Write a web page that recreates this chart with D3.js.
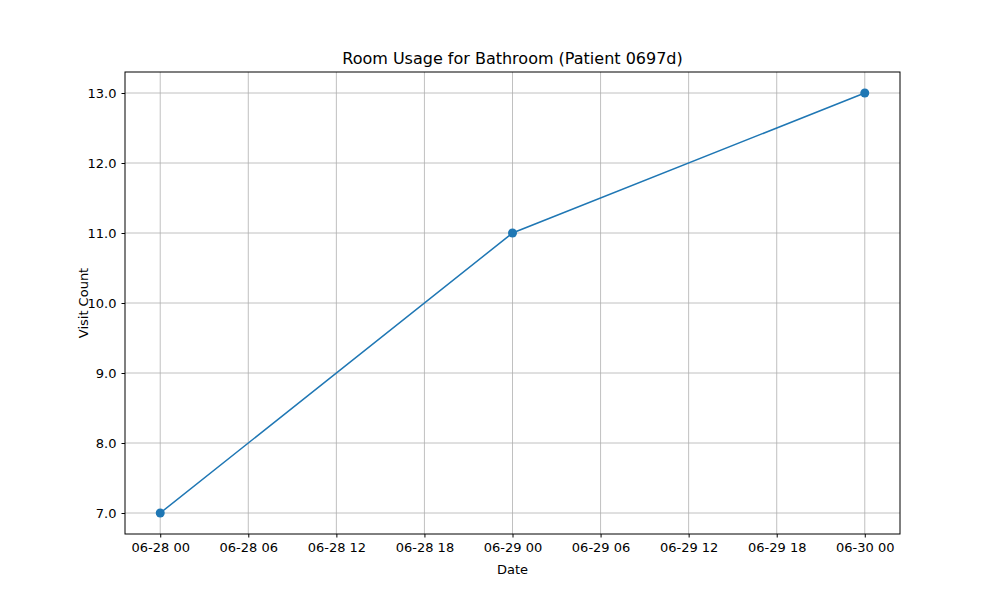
<!DOCTYPE html>
<html><head><meta charset="utf-8">
<script src="https://cdn.jsdelivr.net/npm/d3@7"></script>
<style>body{margin:0;background:#fff}text{font-family:"DejaVu Sans",sans-serif}</style>
</head><body>
<svg id="chart" width="1000" height="600"></svg>
<script>
// data
const dates = ["2023-06-28T00:00", "2023-06-29T00:00", "2023-06-30T00:00"];
const visits = [7, 11, 13];
const yTicks = [7, 8, 9, 10, 11, 12, 13];

const svg = d3.select("#chart");
const mLeft = 125, mRight = 900, mTop = 72, mBottom = 534;

const parse = d3.timeParse("%Y-%m-%dT%H:%M");
const pts = dates.map((d, i) => ({ t: parse(d), v: visits[i] }));

// matplotlib style 5% margins
const t0 = pts[0].t, t1 = pts[pts.length - 1].t;
const pad = (t1 - t0) * 0.05;
const x = d3.scaleTime().domain([new Date(+t0 - pad), new Date(+t1 + pad)]).range([mLeft, mRight]);
const yPad = (13 - 7) * 0.05;
const y = d3.scaleLinear().domain([7 - yPad, 13 + yPad]).range([mBottom, mTop]);

const xTicks = d3.timeHour.every(6).range(t0, new Date(+t1 + 1));
const fmt = d3.timeFormat("%m-%d %H");

// grid
svg.append("g").selectAll("line").data(xTicks).join("line")
  .attr("x1", d => x(d)).attr("x2", d => x(d)).attr("y1", mTop).attr("y2", mBottom)
  .attr("stroke", "#b0b0b0").attr("stroke-width", 0.8);
svg.append("g").selectAll("line").data(yTicks).join("line")
  .attr("y1", d => y(d)).attr("y2", d => y(d)).attr("x1", mLeft).attr("x2", mRight)
  .attr("stroke", "#b0b0b0").attr("stroke-width", 0.8);

// axes
const xAxis = svg.append("g").attr("transform", `translate(0,${mBottom})`)
  .call(d3.axisBottom(x).tickValues(xTicks).tickFormat(fmt).tickSize(3.5).tickPadding(5));
const yAxis = svg.append("g").attr("transform", `translate(${mLeft},0)`)
  .call(d3.axisLeft(y).tickValues(yTicks).tickSize(3.5).tickPadding(5));
[xAxis, yAxis].forEach(a => {
  a.select(".domain").remove();
  a.selectAll("text").attr("font-size", 13).attr("fill", "#000").style("font-family", "DejaVu Sans");
  a.selectAll("line").attr("stroke", "#000");
});

svg.append("rect").attr("x", mLeft).attr("y", mTop).attr("width", mRight - mLeft).attr("height", mBottom - mTop)
  .attr("fill", "none").attr("stroke", "#000").attr("stroke-width", 1);

// line + markers
svg.append("path").datum(pts)
  .attr("d", d3.line().x(d => x(d.t)).y(d => y(d.v)))
  .attr("fill", "none").attr("stroke", "#1f77b4").attr("stroke-width", 1.5);
svg.append("g").selectAll("circle").data(pts).join("circle")
  .attr("cx", d => x(d.t)).attr("cy", d => y(d.v)).attr("r", 4.5).attr("fill", "#1f77b4");

// labels
svg.append("text").attr("x", (mLeft + mRight) / 2).attr("y", 64).attr("text-anchor", "middle")
  .attr("font-size", 16).text("Room Usage for Bathroom (Patient 0697d)");
svg.append("text").attr("x", (mLeft + mRight) / 2).attr("y", 574).attr("text-anchor", "middle")
  .attr("font-size", 13).text("Date");
svg.append("text").attr("transform", `translate(88,${(mTop + mBottom) / 2}) rotate(-90)`)
  .attr("text-anchor", "middle").attr("font-size", 13).text("Visit Count");
</script>
</body></html>
